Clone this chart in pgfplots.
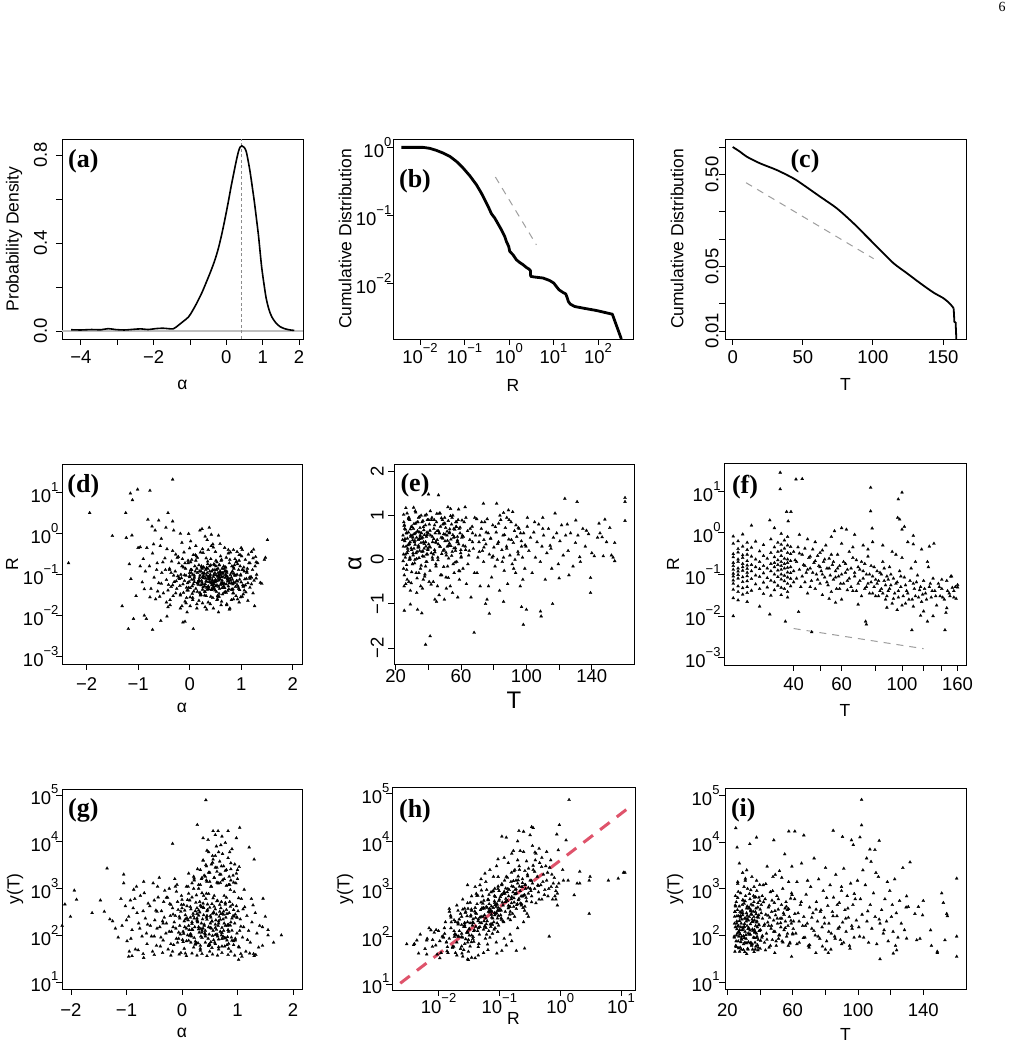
\documentclass[border=0pt]{standalone}
\usepackage{fontspec}
\setmainfont{Liberation Sans}
\newfontfamily\serifface{Liberation Serif}
\usepackage{pgfplots}
\pgfplotsset{compat=1.18}

\newcommand\tks{\fontsize{18.5}{20}\selectfont}
\newcommand\lab{\fontsize{17.5}{19}\selectfont}
\newcommand\biglab{\fontsize{24}{26}\selectfont}
\newcommand\tp[1]{10\raisebox{11pt}{\fontsize{13}{13}\selectfont #1}}
\newcommand\panel[1]{{\serifface\bfseries\fontsize{26}{28}\selectfont(#1)}}

\pgfplotsset{
  rpanel/.style={
    scale only axis, anchor=south west,
    axis line style={black, line width=0.9pt},
    every tick/.style={black, line width=0.9pt},
    tick align=outside, major tick length=6pt, minor tick length=0pt,
    xtick pos=bottom, ytick pos=left,
    tick label style={font=\tks, inner sep=0pt},
  },
  dots/.style={only marks, mark=triangle*, mark size=1.7pt,
    mark options={fill=black, draw=black, line width=0.3pt}},
  guide/.style={black!38, line width=1pt, dash pattern=on 7pt off 6pt},
}

\begin{document}
\begin{tikzpicture}
\path[use as bounding box, fill=white] (0,0) rectangle (1014pt,1046pt);

% ---------------- (a) density of alpha
\begin{axis}[rpanel, at={(62pt,707pt)}, width=241pt, height=200pt,
  xmin=-4.52, xmax=2.11, ymin=-0.036, ymax=0.873,
  xtick={-4,-3,-2,-1,0,1,2}, xticklabels={−4,,−2,,0,1,2},
  ytick={0,0.2,0.4,0.6,0.8}, yticklabels={0.0,,0.4,,0.8},
  x tick label style={anchor=base, yshift=-18.65pt},
  y tick label style={xshift=-9pt, rotate=90, anchor=base}]
\addplot[black!25, line width=1.3pt] coordinates {(-4.52,0)(2.11,0)};
\addplot[black!45, line width=0.8pt, dash pattern=on 3pt off 2.5pt] coordinates {(0.416,-0.036)(0.416,0.873)};
\addplot[black, line width=1.6pt, smooth] coordinates {
(-4.27,0.006)(-4.0,0.005)(-3.7,0.007)(-3.45,0.006)(-3.25,0.011)(-3.05,0.007)(-2.8,0.005)
(-2.55,0.008)(-2.35,0.01)(-2.15,0.007)(-1.95,0.011)(-1.75,0.013)(-1.6,0.011)(-1.46,0.01)
(-1.38,0.018)(-1.32,0.026)(-1.2,0.042)(-1.04,0.064)(-0.92,0.095)(-0.81,0.128)(-0.67,0.175)
(-0.54,0.226)(-0.42,0.275)(-0.31,0.325)(-0.22,0.375)(-0.125,0.44)(-0.03,0.515)(0.058,0.59)
(0.13,0.655)(0.196,0.71)(0.27,0.77)(0.333,0.815)(0.38,0.836)(0.427,0.842)(0.49,0.835)
(0.545,0.818)(0.6,0.775)(0.656,0.722)(0.715,0.655)(0.774,0.585)(0.83,0.51)(0.885,0.435)
(0.93,0.36)(0.977,0.285)(1.04,0.21)(1.096,0.15)(1.17,0.1)(1.25,0.065)(1.36,0.038)
(1.48,0.02)(1.62,0.01)(1.76,0.005)(1.87,0.003)};
\end{axis}

% ---------------- (b) cumulative distribution of R
\begin{axis}[rpanel, at={(393pt,707pt)}, width=240pt, height=200pt,
  xmode=log, ymode=log,
  xmin=0.00247, xmax=612, ymin=0.00156, ymax=1.327,
  xtick={0.01,0.1,1,10,100}, xticklabels={\tp{−2},\tp{−1},\tp{0},\tp{1},\tp{2}},
  ytick={0.01,0.1,1}, yticklabels={\tp{−2},\tp{−1},\tp{0}},
  x tick label style={anchor=base, yshift=-18.4pt},
  y tick label style={anchor=east, xshift=4.5pt}]
\addplot[guide] coordinates {(0.494,0.368)(4.12,0.0374)};
\addplot[black, line width=2.8pt, line join=round] coordinates {
(0.00381,1.0)(0.00697,1.0)(0.0117,1.0)(0.0165,0.968)(0.0233,0.904)(0.033,0.826)
(0.0465,0.739)(0.0656,0.624)(0.0927,0.499)(0.131,0.385)(0.185,0.284)(0.239,0.214)
(0.284,0.171)(0.338,0.137)(0.402,0.107)(0.478,0.0921)(0.566,0.076)(0.674,0.0621)
(0.8,0.0496)(0.873,0.0419)(0.984,0.0354)(1.04,0.0299)(1.23,0.0267)(1.47,0.0225)
(1.74,0.0206)(2.07,0.0191)(2.46,0.0174)(2.82,0.0165)(3.02,0.0157)(3.07,0.0129)
(3.78,0.0126)(5.82,0.0122)(8.22,0.0112)(10.1,0.0103)(11.6,0.00917)(13.3,0.00819)
(16.4,0.00748)(18.8,0.00716)(20.1,0.0064)(21.6,0.00552)(23.9,0.00505)(29.9,0.00467)
(46.1,0.00442)(91.8,0.00408)(210,0.0036)(335,0.00156)};
\end{axis}

% ---------------- (c) cumulative distribution of T
\begin{axis}[rpanel, at={(725pt,707pt)}, width=241pt, height=200pt,
  ymode=log,
  xmin=-5.5, xmax=166.4, ymin=0.00818, ymax=1.222,
  xtick={0,50,100,150}, xticklabels={0,50,100,150},
  ytick={0.01,0.02,0.05,0.1,0.2,0.5,1}, yticklabels={0.01,,0.05,,,0.50,},
  x tick label style={anchor=base, yshift=-18.35pt},
  y tick label style={xshift=-0.7pt, rotate=90, anchor=base}]
\addplot[guide] coordinates {(9.5,0.409)(100.5,0.0611)};
\addplot[black, line width=1.8pt, smooth] coordinates {
(0,1.0)(5.2,0.889)(10.0,0.785)(19.5,0.664)(31.4,0.562)(43.3,0.456)(50.5,0.386)
(62.4,0.288)(74.3,0.215)(86.2,0.148)(95.7,0.106)(105.2,0.0759)(114.7,0.0545)
(124.3,0.0424)(133.8,0.033)(143.3,0.0261)(150.5,0.0226)(155.2,0.0196)(157.6,0.0176)};
\addplot[black, line width=1.8pt] coordinates {
(157.6,0.0176)(158.1,0.0126)(159.0,0.0123)(159.5,0.0082)};
\end{axis}

% ---------------- (d) R against alpha
\begin{axis}[rpanel, at={(62pt,382pt)}, width=240pt, height=200pt,
  ymode=log,
  xmin=-2.477, xmax=2.18, ymin=6.53e-4, ymax=50.1,
  xtick={-2,-1,0,1,2}, xticklabels={−2,−1,0,1,2},
  ytick={1e-3,1e-2,1e-1,1,10}, yticklabels={\tp{−3},\tp{−2},\tp{−1},\tp{0},\tp{1}},
  x tick label style={anchor=base, yshift=-20.5pt},
  y tick label style={anchor=east, xshift=2.6pt}]
\addplot[dots] coordinates {
(0.12,0.045)(0.15,0.11)(0.18,0.072)(0.21,0.031)(0.23,0.16)(0.25,0.058)(0.27,0.092)(0.29,0.038)
(0.31,0.13)(0.33,0.067)(0.35,0.21)(0.37,0.049)(0.39,0.085)(0.41,0.029)(0.43,0.12)(0.45,0.063)
(0.47,0.18)(0.49,0.041)(0.51,0.097)(0.53,0.055)(0.55,0.14)(0.57,0.034)(0.59,0.078)(0.61,0.22)
(0.63,0.047)(0.65,0.105)(0.67,0.061)(0.69,0.15)(0.71,0.036)(0.73,0.089)(0.75,0.052)(0.77,0.19)
(0.79,0.071)(0.81,0.043)(0.83,0.12)(0.85,0.064)(0.87,0.095)(0.89,0.05)
(0.44,0.074)(0.28,0.11)(0.62,0.087)(0.36,0.052)(0.52,0.13)(0.19,0.083)(0.74,0.069)(0.58,0.045)
(0.33,0.095)(0.47,0.058)(0.68,0.12)(0.24,0.064)(0.55,0.079)(0.41,0.17)(0.79,0.098)(0.14,0.14)
(0.64,0.033)(0.38,0.066)(0.49,0.11)(0.71,0.058)(0.26,0.049)(0.57,0.099)(0.42,0.042)(0.83,0.075)
(0.31,0.081)(0.66,0.16)(0.53,0.069)(0.22,0.12)(0.46,0.088)(0.76,0.044)(0.35,0.14)(0.61,0.061)
(0.17,0.057)(0.5,0.075)(0.86,0.14)(0.4,0.1)(0.69,0.083)(0.3,0.059)(0.56,0.051)(0.45,0.13)
(0.72,0.11)(0.2,0.095)(0.63,0.072)(0.37,0.078)(0.81,0.085)(0.48,0.065)(0.27,0.15)(0.59,0.12)
(0.34,0.043)(0.54,0.09)(0.77,0.062)(0.43,0.055)(0.65,0.088)(0.16,0.066)(0.52,0.038)(0.7,0.098)
(0.39,0.12)(0.6,0.056)(0.25,0.087)(0.46,0.046)(0.84,0.058)(0.32,0.07)(0.58,0.17)(0.73,0.076)
(0.5,0.052)(0.41,0.064)(0.67,0.047)(0.23,0.071)(0.55,0.11)(0.36,0.089)
(-0.28,0.12)(-0.25,0.045)(-0.22,0.27)(-0.2,0.078)(-0.18,0.031)(-0.15,0.16)(-0.13,0.058)(-0.11,0.35)
(-0.09,0.022)(-0.07,0.094)(-0.05,0.041)(-0.03,0.19)(-0.01,0.067)(0.01,0.028)(0.03,0.13)(0.05,0.052)
(0.07,0.3)(0.09,0.085)(-0.26,0.069)(-0.21,0.19)(-0.17,0.1)(-0.12,0.036)(-0.08,0.14)(-0.04,0.062)
(0.0,0.11)(0.04,0.075)(0.08,0.039)(-0.19,0.053)(-0.14,0.24)(-0.06,0.027)(0.02,0.2)(0.06,0.1)
(-0.23,0.092)(-0.1,0.07)(-0.02,0.048)(0.1,0.16)(-0.27,0.035)(-0.16,0.082)(0.05,0.034)(0.0,0.44)
(0.91,0.21)(0.93,0.068)(0.95,0.13)(0.97,0.042)(0.99,0.095)(1.01,0.28)(1.03,0.055)(1.05,0.15)
(1.07,0.077)(1.09,0.037)(1.11,0.11)(1.13,0.062)(1.15,0.19)(1.17,0.048)(1.19,0.088)(1.22,0.13)
(1.25,0.071)(1.27,0.16)(1.3,0.1)(0.92,0.1)(0.96,0.3)(1.0,0.065)(1.04,0.033)(1.08,0.23)
(1.12,0.14)(1.16,0.085)(1.2,0.058)(0.94,0.051)(1.06,0.12)(1.23,0.25)
(-0.78,0.16)(-0.75,0.045)(-0.72,0.33)(-0.69,0.085)(-0.66,0.025)(-0.63,0.19)(-0.6,0.062)(-0.57,0.5)
(-0.54,0.11)(-0.51,0.035)(-0.48,0.25)(-0.45,0.074)(-0.42,0.016)(-0.39,0.14)(-0.36,0.05)(-0.33,0.38)
(-0.31,0.095)(-0.77,0.028)(-0.7,0.55)(-0.64,0.13)(-0.58,0.029)(-0.52,0.2)(-0.47,0.13)(-0.41,0.056)
(-0.35,0.21)(-0.32,0.03)(-0.55,0.06)(-0.44,0.42)(-0.62,0.039)(-0.38,0.024)
(-0.73,1.5)(-0.67,1.2)(-0.46,1.4)(-0.31,1.2)(-0.18,1.0)(-0.02,0.99)(0.2,1.2)(0.24,1.3)
(0.38,1.4)(0.3,0.85)(0.34,0.7)(0.56,0.9)(0.59,0.56)(-0.96,0.47)(-0.83,0.45)(-0.9,0.24)
(0.85,0.4)(0.98,0.3)(1.24,0.41)(1.02,0.4)(0.12,0.5)(0.45,0.55)(0.68,0.45)(-0.15,0.6)
(0.02,0.65)(0.5,0.36)(0.75,0.33)(0.25,0.42)(-0.55,0.75)(0.42,0.95)
(-0.44,0.0095)(-0.38,0.018)(-0.18,0.015)(0.01,0.017)(0.14,0.015)(0.33,0.014)(0.46,0.015)(0.56,0.012)
(0.72,0.018)(0.25,0.02)(0.62,0.022)(0.85,0.025)(-0.05,0.012)(0.4,0.019)(0.18,0.023)
(-0.33,21)(-1.01,12)(-1.15,9.6)(-1.11,6.6)(-0.77,11.2)(-1.94,3.2)(-1.24,3.2)(-0.42,3.2)
(-2.35,0.19)(-1.5,0.88)(-1.23,0.79)(-1.12,0.91)(-0.81,2.2)(-0.6,2.1)(-0.33,2)(1.51,0.7)
(1.47,0.26)(1.45,0.23)(-1.31,0.017)(-1.19,0.0047)(-1.09,0.0083)(-0.72,0.0045)(0.07,0.0047)(-0.88,0.01)
(-0.84,0.0083)(-0.56,0.0074)(-0.13,0.0068)(-0.09,0.0071)(1.29,0.081)(1.37,0.063)(1.4,0.06)(1.2,0.36)
(1.28,0.27)(-1.17,0.18)(-1.14,0.078)(-1.04,0.03)(-0.96,0.16)(-0.92,0.065)(-0.86,0.12)(-1.0,0.45)
(-0.88,0.044)
(-0.45,0.021)(-0.39,0.13)(-0.33,0.055)(-0.27,0.31)(-0.21,0.084)(-0.15,0.017)(-0.09,0.19)(-0.03,0.041)
(0.03,0.11)(0.09,0.066)(0.15,0.26)(0.21,0.033)(0.27,0.15)(0.33,0.048)(0.39,0.093)(0.45,0.027)
(0.51,0.22)(0.57,0.072)(0.63,0.14)(0.69,0.038)(0.75,0.4)(0.81,0.061)(0.87,0.17)(0.93,0.025)
(0.99,0.1)(1.05,0.052)(1.11,0.12)(1.17,0.079)(1.23,0.035)(1.29,0.2)
(-0.42,0.041)(-0.36,0.11)(-0.3,0.066)(-0.24,0.26)(-0.18,0.033)(-0.12,0.15)(-0.06,0.048)(0.0,0.093)
(0.06,0.027)(0.12,0.22)(0.18,0.072)(0.24,0.14)(0.3,0.038)(0.36,0.4)(0.42,0.061)(0.48,0.17)
(0.54,0.025)(0.6,0.1)(0.66,0.052)(0.72,0.12)(0.78,0.079)(0.84,0.035)(0.9,0.2)(0.96,0.021)
(1.02,0.13)(1.08,0.055)(1.14,0.31)(1.2,0.084)(1.26,0.017)(1.32,0.19)
(0.0,0.087)(0.04,0.23)(0.07,0.058)(0.11,0.12)(0.14,0.019)(0.18,0.068)(0.21,0.35)(0.25,0.043)
(0.28,0.105)(0.32,0.03)(0.35,0.18)(0.39,0.076)(0.42,0.5)(0.46,0.051)(0.49,0.13)(0.53,0.024)
(0.56,0.095)(0.6,0.28)(0.63,0.064)(0.67,0.036)(0.7,0.15)(0.74,0.082)(0.77,0.014)(0.81,0.11)
(0.84,0.044)(0.88,0.24)(0.91,0.07)(0.95,0.045)(0.98,0.16)(1.02,0.029)
(0.02,0.13)(0.06,0.024)(0.09,0.095)(0.13,0.28)(0.16,0.064)(0.2,0.036)(0.23,0.15)(0.27,0.082)
(0.3,0.016)(0.34,0.11)(0.37,0.044)(0.41,0.24)(0.44,0.07)(0.48,0.045)(0.51,0.16)(0.55,0.029)
(0.58,0.087)(0.62,0.23)(0.65,0.058)(0.69,0.12)(0.72,0.019)(0.76,0.068)(0.79,0.35)(0.83,0.043)
(0.86,0.105)(0.9,0.03)(0.93,0.18)(0.97,0.076)(1.0,0.45)(1.04,0.051)
(-0.1,0.097)(-0.07,0.02)(-0.03,0.22)(0.01,0.047)(0.04,0.13)(0.08,0.076)(0.11,0.3)(0.15,0.038)
(0.18,0.17)(0.22,0.055)(0.25,0.107)(0.29,0.031)(0.32,0.25)(0.36,0.083)(0.39,0.16)(0.43,0.044)
(0.46,0.46)(0.5,0.07)(0.53,0.2)(0.57,0.029)(0.6,0.115)(0.64,0.06)(0.67,0.14)(0.71,0.091)
(0.74,0.04)(0.78,0.23)(0.81,0.024)(0.85,0.15)(0.88,0.063)(0.92,0.36)
(0.15,0.061)(0.19,0.12)(0.22,0.032)(0.26,0.34)(0.29,0.052)(0.33,0.145)(0.36,0.021)(0.4,0.085)
(0.43,0.044)(0.47,0.1)(0.5,0.067)(0.54,0.03)(0.57,0.17)(0.61,0.018)(0.64,0.11)(0.68,0.047)
(0.71,0.26)(0.75,0.071)(0.78,0.015)(0.82,0.16)(0.85,0.035)(0.89,0.094)(0.92,0.056)(0.96,0.22)
(0.99,0.028)(1.03,0.13)(1.06,0.041)(1.1,0.079)(1.13,0.023)(1.17,0.19)};
\end{axis}

% ---------------- (e) alpha against T
\begin{axis}[rpanel, at={(394pt,382pt)}, width=240pt, height=200pt,
  xmin=19, xmax=165.8, ymin=-2.36, ymax=2.165,
  xtick={20,40,...,140}, xticklabels={20,,60,,100,,140},
  ytick={-2,-1,0,1,2}, yticklabels={−2,−1,0,1,2},
  x tick label style={anchor=base, yshift=-12.45pt},
  y tick label style={xshift=-4.4pt, rotate=90, anchor=base}]
\addplot[dots] coordinates {
(24.5,0.55)(24.8,0.12)(25.0,0.85)(25.3,-0.35)(25.6,0.42)(25.9,0.05)(26.1,0.68)(26.4,0.3)
(26.7,-0.12)(27.0,1.05)(27.2,0.48)(27.5,0.2)(27.8,0.62)(28.1,-0.5)(28.3,0.36)(28.6,0.9)
(28.9,0.01)(29.2,0.55)(29.5,0.26)(29.8,-0.28)(30.1,0.74)(30.4,0.44)(30.7,0.1)(31.0,1.18)
(31.3,0.58)(31.6,-0.08)(31.9,0.34)(32.2,0.82)(32.5,0.15)(32.8,0.5)(33.1,-0.42)(33.4,0.65)
(33.7,0.28)(34.0,0.95)(34.3,0.04)(34.6,0.47)(34.9,0.72)(35.2,-0.2)(35.5,0.38)(35.8,0.6)
(36.1,0.18)(36.4,-0.65)(36.7,0.88)(37.0,0.4)(37.3,0.07)(37.6,0.56)(37.9,-0.33)(38.2,0.78)
(38.5,0.3)(38.8,0.52)(39.1,-0.05)(39.4,0.9)(39.7,0.22)
(24.7,0.3)(25.5,0.7)(26.2,-0.55)(27.1,0.15)(27.9,0.95)(28.8,0.4)(29.6,0.75)(30.3,-0.1)
(31.2,0.25)(32.0,0.6)(32.9,-0.75)(33.8,0.45)(34.7,0.2)(35.6,1.0)(36.5,0.5)(37.4,0.25)
(38.3,-0.15)(39.2,0.62)(24.9,1.02)(26.8,0.6)(28.4,0.0)(30.6,0.5)(33.2,0.85)(35.0,0.55)
(36.9,-0.45)(38.9,0.12)(25.2,-0.6)(29.0,-0.7)(31.8,0.0)(34.2,-0.3)
(40.2,0.35)(40.6,0.8)(41.0,-0.25)(41.4,0.55)(41.8,0.15)(42.2,0.95)(42.6,0.4)(43.0,-0.5)
(43.4,0.7)(43.8,0.22)(44.2,0.6)(44.6,-0.1)(45.0,0.85)(45.4,0.45)(45.8,0.05)(46.2,0.65)
(46.6,-0.8)(47.0,0.3)(47.4,0.75)(47.8,0.5)(48.2,-0.35)(48.6,0.9)(49.0,0.2)(49.4,0.58)
(49.8,-0.9)(50.2,0.42)(50.6,0.72)(51.0,0.1)(51.4,0.55)(51.8,-0.15)(52.2,0.88)(52.6,0.32)
(53.0,0.62)(53.4,-0.6)(53.8,0.46)(54.2,0.8)(54.6,0.18)(55.0,1.0)(55.4,0.5)(55.8,-0.3)
(56.2,0.68)(56.6,0.26)(57.0,0.75)(57.4,-0.05)(57.8,0.52)(58.2,0.9)(58.6,0.35)(59.0,-0.45)
(59.4,0.6)(59.8,0.15)
(41.2,1.1)(43.6,0.9)(45.6,-0.6)(47.2,1.05)(49.6,0.82)(51.6,0.3)(53.6,1.15)(55.6,0.7)
(57.6,0.4)(42.4,0.05)(44.8,0.38)(46.8,0.6)(48.8,0.48)(50.8,-0.4)(52.8,0.6)(54.8,-0.75)
(56.8,0.85)(58.8,0.7)(44.0,-0.9)(50.0,0.95)
(60.5,0.5)(61.2,-0.2)(61.9,0.85)(62.6,0.3)(63.3,-0.55)(64.0,0.65)(64.7,0.1)(65.4,0.45)
(66.1,-0.85)(66.8,0.75)(67.5,0.25)(68.2,-0.3)(68.9,0.55)(69.6,0.92)(70.3,0.05)(71.0,0.4)
(71.7,-0.6)(72.4,0.7)(73.1,0.2)(73.8,-0.05)(74.5,0.85)(75.2,0.35)(75.9,-0.9)(76.6,0.6)
(77.3,0.12)(78.0,0.48)(78.7,-0.4)(79.4,0.78)(80.1,0.28)(80.8,-0.15)(81.5,0.62)(82.2,0.0)
(82.9,0.4)(83.6,-0.7)(84.3,0.9)(85.0,0.22)(85.7,0.55)(86.4,-0.25)(87.1,0.72)(87.8,0.3)
(88.5,-0.55)(89.2,0.46)(89.9,0.1)(90.6,0.85)(91.3,-0.1)(92.0,0.38)(92.7,0.65)(93.4,-0.3)
(94.1,0.52)(94.8,0.18)(95.5,0.7)(96.2,-0.6)(96.9,0.42)(97.6,0.05)(98.3,0.6)(99.0,-0.2)
(99.7,0.3)(63.0,0.95)(67.0,0.6)(71.5,0.55)(76.0,0.92)(79.0,0.05)(83.0,0.82)(88.0,0.95)
(93.0,0.0)(97.0,0.3)(65.0,0.2)(74.0,0.45)(86.0,0.05)(95.0,0.72)
(100.5,0.75)(101.5,0.2)(102.5,0.5)(103.5,-0.3)(104.5,0.62)(105.5,0.05)(106.5,0.4)(107.5,0.8)
(108.5,-0.05)(109.5,0.3)(110.5,0.55)(111.5,-0.45)(112.5,0.15)(113.5,0.7)(114.5,0.32)(115.5,-0.2)
(116.5,0.5)(117.5,1.05)(118.5,0.6)(119.5,-0.1)(120.5,0.42)(121.5,0.78)(122.5,0.1)(124.0,0.55)
(125.5,0.2)(127.0,0.6)(128.5,-0.15)(130.0,0.38)(131.5,0.55)(133.0,-0.05)(134.5,0.7)(136.0,0.3)
(138.0,0.58)(140.0,0.15)(141.5,0.08)(143.5,0.5)(145.0,0.6)(147.0,0.08)(149.0,0.4)(151.0,0.72)
(153.0,0.05)(110.0,0.95)(105.0,0.85)(115.0,0.25)(125.0,0.8)
(38.3,-1.92)(41.1,-1.73)(68,-1.65)(98.1,-1.47)(108.6,-1.17)(109,-1.28)(100,-1.13)(97,-1.07)
(116,-1.0)(77.3,-1.22)(25.3,-1.15)(29,-1.01)(33.4,-1.13)(36,-1.21)(139.2,-0.75)(139.2,-0.41)
(160.3,1.4)(160.3,1.31)(160.3,0.88)(154,0.38)(152,0.1)(154,-0.03)(148,0.91)(144.4,0.82)
(146.3,0.51)(131,1.31)(123.5,1.38)(130.2,0.89)(136.7,0.66)(132.6,0.06)(110,0.7)(81.8,1.27)
(73.7,1.27)(89,1.12)(86,1.06)(91.6,1.08)(62.5,1.19)(52,1.19)(46.2,1.46)(40.1,1.48)
(75,-1.0)(86,-0.95)(120,-0.42)(126,-0.35)(45,-0.95)(58,-0.85)
(24.3,0.45)(24.85,-0.2)(25.4,0.78)(25.95,0.12)(26.5,0.6)(27.05,-0.45)(27.6,0.33)(28.15,0.95)
(28.7,0.05)(29.25,0.52)(29.8,0.22)(30.35,-0.1)(30.9,0.7)(31.45,0.4)(32.0,1.1)(32.55,-0.3)
(33.1,0.18)(33.65,0.85)(34.2,0.28)(34.75,0.62)(35.3,-0.6)(35.85,0.48)(36.4,0.08)(36.95,0.74)
(37.5,0.36)(38.05,1.0)(38.6,-0.05)(39.15,0.56)(39.7,0.25)(40.25,0.9)
(24.6,-0.03)(25.15,0.77)(25.7,0.47)(26.25,1.17)(26.8,-0.23)(27.35,0.25)(27.9,0.92)(28.45,0.35)
(29.0,0.69)(29.55,-0.53)(30.1,0.55)(30.65,0.15)(31.2,0.81)(31.75,0.43)(32.3,1.07)(32.85,0.02)
(33.4,0.63)(33.95,0.32)(34.5,0.97)(35.05,0.52)(35.6,-0.13)(36.15,0.85)(36.7,0.19)(37.25,0.67)
(37.8,-0.38)(38.35,0.4)(38.9,1.02)(39.45,0.12)(40.0,0.59)(40.55,0.29)
(40.5,-0.5)(41.2,0.28)(41.9,0.9)(42.6,0.0)(43.3,0.47)(44.0,0.17)(44.7,-0.15)(45.4,0.65)
(46.1,0.35)(46.8,1.05)(47.5,-0.35)(48.2,0.13)(48.9,0.8)(49.6,0.23)(50.3,0.57)(51.0,-0.65)
(51.7,0.43)(52.4,0.03)(53.1,0.69)(53.8,0.31)(54.5,0.95)(55.2,-0.1)(55.9,0.51)(56.6,0.2)
(57.3,0.85)(58.0,0.4)(58.7,-0.25)(59.4,0.73)(60.1,0.07)(60.8,0.55)
(41.0,0.66)(41.7,-0.56)(42.4,0.52)(43.1,0.12)(43.8,0.78)(44.5,0.4)(45.2,1.04)(45.9,-0.01)
(46.6,0.6)(47.3,0.29)(48.0,0.94)(48.7,0.49)(49.4,-0.16)(50.1,0.82)(50.8,0.16)(51.5,0.64)
(52.2,-0.41)(52.9,0.37)(53.6,0.99)(54.3,0.09)(55.0,0.56)(55.7,0.26)(56.4,-0.06)(57.1,0.74)
(57.8,0.44)(58.5,1.14)(59.2,-0.26)(59.9,0.22)(60.6,0.89)(61.3,0.32)
(60.0,0.05)(61.4,0.52)(62.8,0.22)(64.2,-0.1)(65.6,0.7)(67.0,0.4)(68.4,0.95)(69.8,-0.3)
(71.2,0.18)(72.6,0.85)(74.0,0.28)(75.4,0.62)(76.8,-0.6)(78.2,0.48)(79.6,0.08)(81.0,0.74)
(82.4,0.36)(83.8,1.0)(85.2,-0.05)(86.6,0.56)(88.0,0.25)(89.4,0.9)(90.8,0.45)(92.2,-0.2)
(93.6,0.78)(95.0,0.12)(96.4,0.6)(97.8,-0.45)(99.2,0.33)(100.6,0.95)};
\end{axis}

% ---------------- (f) R against T
\begin{axis}[rpanel, at={(724pt,381pt)}, width=242pt, height=202pt,
  xmode=log, ymode=log,
  xmin=22.2, xmax=171.8, ymin=6.65e-4, ymax=47.5,
  xtick={40,50,60,80,100,120,140,160}, xticklabels={40,,60,,100,,,160},
  ytick={1e-3,1e-2,1e-1,1,10}, yticklabels={\tp{−3},\tp{−2},\tp{−1},\tp{0},\tp{1}},
  x tick label style={anchor=base, yshift=-19.5pt},
  y tick label style={anchor=east, xshift=2.7pt}]
\addplot[guide] coordinates {(40,0.005)(120,0.00164)};
\addplot[dots] coordinates {
(24,0.82)(24,0.55)(24,0.31)(24,0.26)(24,0.19)(24,0.16)(24,0.13)(24,0.105)(24,0.09)(24,0.072)(24,0.06)(24,0.043)(24,0.027)
(25,0.63)(25,0.41)(25,0.34)(25,0.23)(25,0.2)(25,0.14)(25,0.118)(25,0.098)(25,0.08)(25,0.052)(25,0.038)(25,0.024)
(26,0.92)(26,0.47)(26,0.29)(26,0.25)(26,0.18)(26,0.15)(26,0.124)(26,0.086)(26,0.066)(26,0.047)(26,0.033)
(27,0.58)(27,0.39)(27,0.3)(27,0.21)(27,0.165)(27,0.137)(27,0.11)(27,0.091)(27,0.069)(27,0.05)(27,0.036)(27,0.022)
(28,0.44)(28,0.27)(28,0.17)(28,0.12)(28,0.078)(28,0.041)
(29,0.62)(29,0.23)(29,0.15)(29,0.095)(29,0.058)
(30,0.36)(30,0.2)(30,0.135)(30,0.088)(30,0.045)(30,0.017)
(31,0.51)(31,0.28)(31,0.16)(31,0.107)(31,0.064)(31,0.034)
(32,0.24)(32,0.14)(32,0.082)(32,0.049)
(33,0.7)(33,0.33)(33,0.18)(33,0.12)(33,0.071)(33,0.031)
(34,1.3)(34,0.45)(34,0.26)(34,0.19)(34,0.15)(34,0.1)(34,0.065)(34,0.042)
(35,0.58)(35,0.35)(35,0.22)(35,0.17)(35,0.125)(35,0.087)(35,0.054)
(36,0.95)(36,0.52)(36,0.37)(36,0.28)(36,0.2)(36,0.16)(36,0.13)(36,0.1)(36,0.076)(36,0.048)(36,0.032)
(37,0.66)(37,0.42)(37,0.24)(37,0.18)(37,0.14)(37,0.094)(37,0.069)(37,0.045)
(38,0.8)(38,0.5)(38,0.33)(38,0.23)(38,0.19)(38,0.145)(38,0.112)(38,0.085)(38,0.06)(38,0.038)(38,0.028)
(39,0.46)(39,0.31)(39,0.21)(39,0.15)(39,0.108)(39,0.079)(39,0.052)
(40.5,0.22)(41,0.08)(41.5,0.45)(42,0.13)(42.5,0.05)(43,0.3)(43.5,0.17)(44,0.065)
(44.5,0.11)(45,0.035)(45.5,0.25)(46,0.14)(46.5,0.07)(47,0.4)(47.5,0.19)(48,0.045)
(48.5,0.1)(49,0.28)(49.5,0.16)(50,0.06)(50.5,0.12)(51,0.032)(51.5,0.2)(52,0.085)
(52.5,0.5)(53,0.14)(53.5,0.055)(54,0.24)(54.5,0.095)(55,0.038)(55.5,0.17)(56,0.075)
(56.5,1.1)(57,0.12)(57.5,0.045)(58,0.3)(58.5,0.09)(59,0.16)(59.5,0.06)(60,0.025)
(61,0.2)(62,0.11)(63,0.07)(64,0.35)(65,0.14)(66,0.04)(67,0.09)(68,0.22)
(69,0.06)(70,0.13)(71,0.03)(72,0.08)(73,0.18)(74,0.05)(75,0.27)(76,0.1)
(77,0.065)(78,0.035)(79,0.15)(80,0.075)
(42,0.9)(45,0.7)(48,0.6)(51,0.38)(54,0.026)(57,0.021)(60,0.55)(63,0.042)
(66,0.45)(69,0.019)(72,0.5)(75,0.4)(78,0.6)(62.5,1.2)(55,0.8)
(81,0.06)(82,0.03)(83,0.11)(84,0.045)(85,0.2)(86,0.07)(87,0.025)(88,0.09)
(89,0.04)(90,0.15)(91,0.055)(92,0.02)(93,0.08)(94,0.035)(95,0.3)(96,0.065)
(97,0.028)(98,0.12)(99,0.05)(100,0.018)(102,0.085)(104,0.04)(106,0.025)(108,0.14)
(110,0.06)(112,0.03)(114,0.095)(116,0.042)(118,0.022)(120,0.07)(122,0.035)(124,0.2)
(126,0.05)(128,0.028)(130,0.08)(132,0.04)(134,0.018)(136,0.06)(138,0.03)(140,0.045)
(143,0.025)(146,0.07)(149,0.035)(152,0.09)(155,0.04)(158,0.026)
(85,0.5)(92,0.35)(100,0.25)(105,0.6)(112,0.2)(118,0.4)(125,0.15)(88,0.016)
(96,0.014)(103,0.02)(110,0.017)(120,0.013)
(40,0.35)(40,0.12)(40,0.065)(41,0.2)(42,0.32)(43,0.09)(44,0.16)(44,0.42)(45,0.13)(46,0.27)
(46,0.05)(47,0.11)(48,0.21)(49,0.075)(50,0.33)(50,0.15)(51,0.1)(52,0.23)(53,0.065)(54,0.14)
(55,0.3)(56,0.2)(57,0.085)(58,0.14)(59,0.045)(60,0.1)(61,0.06)(62,0.18)(63,0.13)(64,0.08)
(65,0.05)(66,0.25)(67,0.11)(68,0.04)(69,0.15)(70,0.07)(71,0.2)(72,0.12)(73,0.045)(74,0.1)
(75,0.06)(76,0.035)(77,0.16)(78,0.09)(79,0.05)(80,0.03)(81,0.12)(82,0.07)(83,0.04)(84,0.1)
(85,0.035)(86,0.14)(87,0.055)(88,0.03)(89,0.075)(90,0.045)(91,0.1)(93,0.026)(95,0.06)(97,0.04)
(99,0.09)(101,0.03)(103,0.055)(105,0.035)(107,0.07)(109,0.025)(111,0.045)(113,0.065)(115,0.028)(117,0.05)
(119,0.033)(121,0.045)(123,0.025)(127,0.06)(129,0.04)(133,0.03)(137,0.05)(141,0.028)(147,0.04)(157,0.05)
(35.7,28)(35.7,11.2)(40.8,19.3)(43,19.7)(37.7,3.2)(39.1,3.2)(32.7,2.0)(38.2,1.9)
(76.7,12.2)(76.7,3.3)(96.9,6.4)(100,9.3)(96.4,2.3)(98,2.1)(77.7,1.28)(24,0.01)
(32.7,0.011)(37.3,0.0074)(41.7,0.0126)(46.6,0.0041)(73.5,0.0074)(74,0.0063)(108.7,0.0046)(143.8,0.0046)
(124,0.0074)(117,0.0102)(130,0.01)(146,0.0155)(145,0.012)(160,0.056)(160,0.049)(151,0.089)
(153,0.048)(150,0.03)(155,0.028)(140,0.075)(131,0.55)(126,0.47)(110,0.53)(110,0.85)
(100,1.2)(102,1.4)(67,0.9)(60,1.3)(28,1.5)};
\end{axis}

% ---------------- (g) y(T) against alpha
\begin{axis}[rpanel, at={(62pt,57pt)}, width=240pt, height=200pt,
  ymode=log,
  xmin=-2.162, xmax=2.162, ymin=7.08, ymax=134600,
  xtick={-2,-1,0,1,2}, xticklabels={−2,−1,0,1,2},
  ytick={10,100,1000,10000,100000}, yticklabels={\tp{1},\tp{2},\tp{3},\tp{4},\tp{5}},
  x tick label style={anchor=base, yshift=-21.1pt},
  y tick label style={anchor=east, xshift=2.6pt}]
\addplot[dots] coordinates {
(0.02,120)(0.05,340)(0.08,75)(0.11,210)(0.14,560)(0.17,95)(0.2,260)(0.23,150)(0.26,720)(0.29,68)
(0.32,310)(0.35,180)(0.38,480)(0.41,110)(0.44,240)(0.47,85)(0.5,390)(0.53,140)(0.56,620)(0.59,70)
(0.62,280)(0.65,160)(0.68,450)(0.71,100)(0.74,220)(0.77,58)(0.8,350)(0.83,130)(0.86,520)(0.89,90)
(0.04,200)(0.09,420)(0.13,130)(0.18,650)(0.22,88)(0.27,230)(0.31,115)(0.36,800)(0.4,170)(0.45,330)
(0.49,62)(0.54,200)(0.58,410)(0.63,105)(0.67,250)(0.72,145)(0.76,700)(0.81,78)(0.85,300)(0.88,190)
(0.01,80)(0.06,270)(0.12,160)(0.16,360)(0.21,55)(0.25,500)(0.3,135)(0.34,95)(0.39,270)(0.43,600)
(0.48,150)(0.52,72)(0.57,300)(0.61,210)(0.66,82)(0.7,380)(0.75,125)(0.79,240)(0.84,66)(0.87,410)
(0.03,450)(0.1,100)(0.15,240)(0.19,130)(0.24,330)(0.28,190)(0.33,60)(0.37,220)(0.42,125)(0.46,460)
(0.51,260)(0.55,98)(0.6,170)(0.64,550)(0.69,120)(0.73,290)(0.78,160)(0.82,92)(0.9,230)(0.35,400)
(-0.58,420)(-0.55,95)(-0.52,1300)(-0.49,210)(-0.46,60)(-0.43,650)(-0.4,150)(-0.37,330)(-0.34,78)(-0.31,900)
(-0.28,180)(-0.25,50)(-0.22,470)(-0.19,120)(-0.16,280)(-0.13,1600)(-0.1,85)(-0.07,350)(-0.04,160)(-0.01,700)
(-0.57,160)(-0.5,560)(-0.44,1100)(-0.38,90)(-0.32,240)(-0.26,640)(-0.2,65)(-0.14,190)(-0.08,520)(-0.03,105)
(-0.53,45)(-0.47,340)(-0.41,1700)(-0.35,200)(-0.29,110)(-0.23,1000)(-0.17,380)(-0.11,140)(-0.05,250)(-0.02,42)
(-0.45,140)(-0.33,520)(-0.21,260)(-0.09,1200)(-0.15,62)
(-1.08,160)(-1.05,1300)(-1.02,420)(-0.99,75)(-0.96,250)(-0.93,560)(-0.9,130)(-0.87,950)(-0.84,50)(-0.81,300)
(-0.78,180)(-0.75,700)(-0.72,95)(-0.69,1400)(-0.66,230)(-0.63,65)(-0.61,480)(-1.0,210)(-0.95,45)(-0.88,380)
(-0.82,1100)(-0.76,140)(-0.7,330)(-0.64,110)(-1.1,600)(-0.92,85)(-0.85,600)(-0.79,48)(-0.68,800)(-0.62,170)
(0.91,450)(0.93,75)(0.95,180)(0.97,1300)(0.99,110)(1.01,330)(1.03,55)(1.05,220)(1.07,600)(1.09,90)
(1.11,150)(1.13,400)(1.15,45)(1.17,260)(1.2,125)(1.23,70)(1.26,190)(1.29,40)(1.32,300)(1.35,110)
(1.38,55)(1.4,160)(0.94,850)(1.0,2500)(1.06,40)(1.12,950)(1.18,80)(1.25,600)(1.33,38)(0.96,280)
(0.22,1500)(0.28,2600)(0.33,1200)(0.38,4000)(0.42,1800)(0.45,6500)(0.48,2200)(0.5,1400)(0.53,3300)(0.55,5000)
(0.58,1700)(0.6,2800)(0.62,8000)(0.65,1300)(0.68,3800)(0.7,2000)(0.73,5500)(0.76,1600)(0.8,2500)(0.84,1200)
(0.88,3500)(0.92,1900)(0.56,4200)(0.63,2300)(0.66,6000)(0.71,3000)(0.52,1100)(0.44,3000)(0.36,1700)(0.3,1000)
(0.18,1300)(0.12,2100)(0.08,1100)(0.78,9500)(0.86,6000)
(-0.9,36)(-0.7,40)(-0.5,38)(-0.35,42)(-0.2,37)(-0.05,39)(0.08,36)(0.18,41)(0.27,37)(0.36,40)
(0.45,36)(0.55,39)(0.64,37)(0.72,42)(0.83,38)(0.95,37)(1.08,35)(1.22,41)(1.3,36)(0.5,45)
(0.43,78000)(0.275,23000)(1.04,20000)(-0.17,9100)(0.56,17000)(0.65,17000)(0.83,17000)(0.38,12000)
(0.47,11000)(0.98,12000)(1.21,7600)(1.3,4200)(-1.35,2700)(-1.94,910)(-1.9,580)(-2.11,460)
(-2.01,250)(-2.16,160)(-1.62,300)(-1.47,560)(-1.4,320)(1.79,100)(1.65,70)(1.55,130)
(1.55,100)(1.46,610)(1.28,440)(-0.96,35)(-0.69,33)(1.02,30)(-1.25,200)(-1.2,140)
(-1.15,90)(-1.3,220)(1.5,250)(1.45,150)(0.72,13000)(0.6,14000)(-1.05,2000)(1.45,60)
(-0.5,95)(-0.45,320)(-0.39,58)(-0.34,180)(-0.28,640)(-0.23,120)(-0.17,45)(-0.12,260)(-0.06,85)(-0.01,450)
(0.05,150)(0.11,1100)(0.16,70)(0.22,230)(0.27,380)(0.33,52)(0.38,140)(0.44,780)(0.49,105)(0.55,290)
(0.6,65)(0.66,200)(0.71,520)(0.77,88)(0.82,160)(0.88,1500)(0.93,62)(0.99,240)(1.04,125)(1.1,360)
(-0.2,450)(-0.16,150)(-0.12,1100)(-0.08,70)(-0.04,230)(0.0,380)(0.04,52)(0.08,140)(0.12,780)(0.16,105)
(0.2,290)(0.24,65)(0.28,200)(0.32,520)(0.36,88)(0.4,160)(0.44,1500)(0.48,62)(0.52,240)(0.56,125)
(0.6,360)(0.64,95)(0.68,320)(0.72,58)(0.76,180)(0.8,640)(0.84,120)(0.88,45)(0.92,260)(0.96,85)
(-0.1,860)(-0.06,115)(-0.02,320)(0.02,72)(0.06,220)(0.1,570)(0.14,97)(0.18,176)(0.22,1650)(0.26,68)
(0.3,265)(0.34,138)(0.38,400)(0.42,105)(0.46,350)(0.5,64)(0.54,198)(0.58,700)(0.62,132)(0.66,50)
(0.7,286)(0.74,94)(0.78,495)(0.82,165)(0.86,1200)(0.9,77)(0.94,253)(0.98,420)(1.02,57)(1.06,154)
(0.0,576)(0.03,108)(0.06,41)(0.09,234)(0.12,77)(0.15,405)(0.18,135)(0.21,990)(0.24,63)(0.27,207)
(0.3,342)(0.33,47)(0.36,126)(0.39,700)(0.42,95)(0.45,261)(0.48,59)(0.51,180)(0.54,468)(0.57,79)
(0.6,144)(0.63,1350)(0.66,56)(0.69,216)(0.72,113)(0.75,324)(0.78,86)(0.81,288)(0.84,52)(0.87,162)
(0.15,106)(0.18,192)(0.21,1800)(0.24,74)(0.27,288)(0.3,150)(0.33,432)(0.36,114)(0.39,384)(0.42,70)
(0.45,216)(0.48,768)(0.51,144)(0.54,54)(0.57,312)(0.6,102)(0.63,540)(0.66,180)(0.69,1320)(0.72,84)
(0.75,276)(0.78,456)(0.81,62)(0.84,168)(0.87,936)(0.9,126)(0.93,348)(0.96,78)(0.99,240)(1.02,624)
(0.3,1200)(0.33,2500)(0.35,1600)(0.38,4000)(0.4,1900)(0.43,3200)(0.45,1400)(0.48,6000)(0.5,2200)(0.53,1100)
(0.55,3600)(0.58,1700)(0.6,5000)(0.63,2800)(0.65,1300)(0.68,2000)(0.7,8500)(0.73,1500)(0.75,3000)(0.78,2400)
(0.8,1150)(0.83,4500)(0.85,1800)(0.88,2600)(0.9,7000)(0.93,1350)(0.95,3300)(0.98,2100)(1.0,1600)(1.03,2900)};
\end{axis}

% ---------------- (h) y(T) against R
\begin{axis}[rpanel, at={(392pt,56pt)}, width=243pt, height=203pt,
  xmode=log, ymode=log,
  xmin=0.001718, xmax=17, ymin=7.48, ymax=138000,
  xtick={0.01,0.1,1,10}, xticklabels={\tp{−2},\tp{−1},\tp{0},\tp{1}},
  ytick={10,100,1000,10000,100000}, yticklabels={\tp{1},\tp{2},\tp{3},\tp{4},\tp{5}},
  x tick label style={anchor=base, yshift=-17.7pt},
  y tick label style={anchor=east, xshift=3.6pt}]
\addplot[dots] coordinates {
(0.015,90)(0.016,150)(0.017,60)(0.018,220)(0.019,110)(0.02,75)(0.021,180)(0.022,130)(0.023,55)(0.024,260)
(0.025,95)(0.026,160)(0.027,70)(0.028,330)(0.029,120)(0.03,200)(0.031,85)(0.032,145)(0.033,62)(0.034,280)
(0.035,105)(0.036,170)(0.037,230)(0.038,78)(0.039,135)(0.04,400)(0.016,250)(0.019,45)(0.023,300)(0.027,190)
(0.031,48)(0.035,350)(0.024,115)(0.028,88)(0.033,190)(0.018,130)(0.021,100)(0.026,52)(0.03,125)(0.037,98)
(0.041,160)(0.043,480)(0.045,230)(0.047,110)(0.049,360)(0.051,190)(0.053,700)(0.055,140)(0.057,280)(0.059,90)
(0.061,420)(0.063,210)(0.065,600)(0.067,130)(0.069,320)(0.071,180)(0.073,850)(0.075,250)(0.077,115)(0.079,400)
(0.081,200)(0.083,550)(0.085,150)(0.087,300)(0.089,75)(0.091,460)(0.093,240)(0.095,1000)(0.097,170)(0.099,350)
(0.042,300)(0.046,70)(0.05,520)(0.054,260)(0.058,160)(0.062,950)(0.066,330)(0.07,95)(0.074,430)(0.078,240)
(0.082,140)(0.086,680)(0.09,310)(0.094,125)(0.098,560)(0.044,130)(0.052,380)(0.06,240)(0.068,480)(0.076,175)
(0.084,280)(0.092,190)(0.048,1200)(0.064,68)(0.08,900)(0.096,270)(0.056,210)(0.072,340)(0.088,420)(0.045,60)
(0.1,600)(0.105,280)(0.11,1200)(0.115,450)(0.12,850)(0.125,330)(0.13,1800)(0.135,560)(0.14,240)(0.145,950)
(0.15,420)(0.155,1400)(0.16,680)(0.165,300)(0.17,1100)(0.175,520)(0.18,2500)(0.185,780)(0.19,380)(0.2,1300)
(0.21,620)(0.22,900)(0.23,450)(0.24,1600)(0.25,720)(0.26,350)(0.27,1000)(0.28,550)(0.29,2000)(0.3,800)
(0.102,380)(0.108,750)(0.118,200)(0.128,620)(0.138,1000)(0.148,290)(0.158,500)(0.168,850)(0.178,260)(0.188,1500)
(0.198,480)(0.212,3000)(0.228,700)(0.245,400)(0.262,1200)(0.285,300)(0.112,520)(0.142,700)(0.172,420)(0.205,580)
(0.235,1100)(0.275,650)(0.122,1500)(0.152,220)(0.182,950)
(0.32,1500)(0.34,700)(0.36,2500)(0.38,1000)(0.4,500)(0.42,1800)(0.44,850)(0.46,3500)(0.48,1200)(0.5,600)
(0.53,2000)(0.56,950)(0.6,1500)(0.63,700)(0.67,2800)(0.71,1100)(0.75,600)(0.8,1700)(0.85,900)(0.9,450)
(0.95,1300)(0.35,1300)(0.39,4000)(0.45,600)(0.52,1400)(0.58,3000)(0.65,1000)(0.73,2000)(0.82,700)(0.88,1100)
(0.33,900)(0.43,1200)(0.55,750)(0.62,2200)(0.77,1300)
(0.004,70)(0.005,110)(0.006,55)(0.007,150)(0.008,85)(0.009,65)(0.01,130)(0.011,45)(0.012,95)(0.013,200)
(0.014,60)(0.0085,120)(0.0105,80)(0.0125,150)(0.0095,42)(0.0115,100)(0.0065,90)(0.0135,75)
(0.02,40)(0.025,38)(0.03,33)(0.035,36)(0.045,40)(0.055,45)(0.065,52)(0.11,50)(0.13,65)(0.16,80)
(0.2,150)(0.25,200)(0.3,260)(0.15,110)(0.12,90)
(0.02,450)(0.025,600)(0.03,500)(0.035,700)(0.04,1100)(0.05,1600)(0.06,1400)(0.07,2500)(0.08,1800)(0.09,3000)
(0.12,4500)(0.14,3500)(0.16,5500)(0.2,4000)(0.25,6000)(0.28,3800)(0.35,8000)(0.4,5500)(0.45,7000)(0.5,4500)
(0.6,6000)(0.7,4000)(0.03,1200)(0.015,380)
(1.4,74000)(0.97,22000)(0.88,14000)(1.25,10500)(0.93,6500)(2.1,2300)(3.0,1500)(3.1,1800)
(1.9,1300)(2.1,1300)(1.7,740)(3.0,300)(6.2,1500)(9.0,1650)(11,2200)(11.6,2200)
(1.35,1500)(1.13,1500)(0.66,100)(0.26,56)(0.19,50)(0.003,69)(0.0039,66)(0.0044,83)
(0.0064,83)(0.0075,135)(0.0047,44)(0.0064,42)(0.031,32)(0.04,35)(0.091,44)(0.11,12600)
(0.13,12000)(0.21,16500)(0.25,16000)(0.34,20000)(0.36,19000)(0.32,13500)(0.2,10000)(0.17,6300)
(0.22,6300)(0.095,4200)(0.058,2100)(0.9,800)(0.85,600)(1.1,2500)
(0.0126,114)(0.0143,45)(0.0162,199)(0.0184,111)(0.0209,348)(0.0237,97)(0.0269,172)(0.0305,382)
(0.0347,76)(0.0394,336)(0.0447,210)(0.0507,931)(0.0575,164)(0.0653,579)(0.0741,288)(0.0841,508)
(0.0955,1130)(0.108,224)(0.123,788)(0.14,392)(0.158,2190)(0.18,771)(0.204,1520)(0.232,479)
(0.263,2380)(0.299,1057)(0.339,1480)(0.385,5850)(0.437,1160)(0.495,2890)
(0.0135,76)(0.0151,333)(0.017,58)(0.019,203)(0.0214,100)(0.024,175)(0.0269,385)(0.0302,75)
(0.0339,263)(0.038,130)(0.0427,717)(0.0479,250)(0.0537,490)(0.0603,152)(0.0676,751)(0.0759,330)
(0.0851,458)(0.0955,1790)(0.107,351)(0.12,867)(0.135,852)(0.151,333)(0.17,1464)(0.191,809)
(0.214,2510)(0.24,697)(0.269,1218)(0.302,2680)(0.339,525)(0.38,2307)
(0.0251,372)(0.0272,158)(0.0295,268)(0.032,105)(0.0347,371)(0.0376,190)(0.0407,245)(0.0442,722)
(0.0479,194)(0.0519,396)(0.0562,387)(0.061,181)(0.0661,585)(0.0716,360)(0.0776,884)(0.0841,314)
(0.0912,485)(0.0989,903)(0.107,243)(0.116,786)(0.126,531)(0.136,1717)(0.148,421)(0.16,1133)
(0.174,637)(0.188,986)(0.204,1834)(0.221,494)(0.24,1327)(0.26,746)
(0.0178,61)(0.0197,105)(0.0219,229)(0.0243,44)(0.0269,193)(0.0299,119)(0.0331,515)(0.0367,89)
(0.0407,308)(0.0452,150)(0.0501,260)(0.0556,567)(0.0617,110)(0.0684,380)(0.0759,185)(0.0841,1014)
(0.0933,350)(0.104,680)(0.115,209)(0.127,1021)(0.141,444)(0.157,611)(0.174,2366)(0.193,459)
(0.214,1123)(0.237,1093)(0.263,424)(0.292,1841)(0.324,1008)(0.359,3090)
(0.00794,61)(0.00912,137)(0.0105,35)(0.012,97)(0.0138,49)(0.0158,275)(0.0182,98)(0.0209,196)
(0.024,62)(0.0275,312)(0.0316,140)(0.0363,198)(0.0417,789)(0.0479,158)(0.055,397)(0.0631,398)
(0.0724,159)(0.0832,711)(0.0955,401)(0.11,1271)};
\addplot[color={rgb,255:red,223;green,83;blue,107}, line width=3pt, dash pattern=on 12pt off 9pt]
  coordinates {(0.00235,10.35)(12.4,46800)};
\end{axis}

% ---------------- (i) y(T) against T
\begin{axis}[rpanel, at={(725pt,57pt)}, width=241pt, height=201pt,
  ymode=log,
  xmin=18.5, xmax=166.2, ymin=7.08, ymax=144500,
  xtick={20,40,...,140}, xticklabels={20,,60,,100,,140},
  ytick={10,100,1000,10000,100000}, yticklabels={\tp{1},\tp{2},\tp{3},\tp{4},\tp{5}},
  x tick label style={anchor=base, yshift=-21.6pt},
  y tick label style={anchor=east, xshift=0.7pt}]
\addplot[dots] coordinates {
(24.2,90)(24.5,320)(24.8,150)(25.1,60)(25.4,520)(25.7,200)(26.0,110)(26.3,1400)(26.6,75)(26.9,260)
(27.2,420)(27.5,130)(27.8,55)(28.1,800)(28.4,180)(28.7,95)(29.0,340)(29.3,2200)(29.6,140)(29.9,65)
(30.2,480)(30.5,230)(30.8,120)(31.1,700)(31.4,85)(31.7,300)(32.0,160)(32.3,1000)(32.6,50)(32.9,210)
(33.2,380)(33.5,105)(33.8,600)(34.1,175)(34.4,70)(34.7,280)(35.0,1800)(35.3,135)(35.6,440)(35.9,90)
(36.2,250)(36.5,650)(36.8,115)(37.1,320)(37.4,58)(37.7,190)(38.0,900)(38.3,150)(38.6,400)(38.9,80)
(39.2,270)(39.5,125)(39.8,550)
(24.3,180)(24.9,700)(25.5,100)(26.1,350)(26.7,160)(27.3,3500)(27.9,240)(28.5,50)(29.1,130)(29.7,560)
(30.3,88)(30.9,1500)(31.5,200)(32.1,420)(32.7,110)(33.3,250)(33.9,68)(34.5,460)(35.1,220)(35.7,125)
(36.3,1100)(36.9,70)(37.5,380)(38.1,200)(38.7,48)(39.3,650)(24.6,45)(25.8,260)(27.0,95)(28.2,150)
(29.4,300)(30.6,44)(31.8,2500)(33.0,145)(34.2,330)(35.4,50)(36.6,210)(37.8,110)
(40.3,130)(40.7,450)(41.1,90)(41.5,230)(41.9,1200)(42.3,160)(42.7,70)(43.1,600)(43.5,280)(43.9,110)
(44.3,3000)(44.7,190)(45.1,400)(45.5,55)(45.9,240)(46.3,850)(46.7,140)(47.1,320)(47.5,80)(47.9,1800)
(48.3,210)(48.7,500)(49.1,120)(49.5,270)(49.9,60)(50.3,700)(50.7,180)(51.1,360)(51.5,100)(51.9,2400)
(52.3,230)(52.7,150)(53.1,450)(53.5,75)(53.9,1000)(54.3,300)(54.7,130)(55.1,5500)(55.5,200)(55.9,520)
(56.3,95)(56.7,350)(57.1,160)(57.5,1400)(57.9,250)(58.3,70)(58.7,620)(59.1,180)(59.5,3000)(59.9,110)
(41.3,700)(43.3,48)(45.3,160)(47.3,560)(49.3,2000)(51.3,85)(53.3,230)(55.3,380)(57.3,60)(59.3,800)
(60.5,200)(61.2,600)(61.9,110)(62.6,1400)(63.3,300)(64.0,70)(64.7,450)(65.4,3500)(66.1,160)(66.8,250)
(67.5,90)(68.2,750)(68.9,180)(69.6,60)(70.3,400)(71.0,1100)(71.7,140)(72.4,300)(73.1,4500)(73.8,100)
(74.5,520)(75.2,200)(75.9,1600)(76.6,85)(77.3,350)(78.0,150)(78.7,900)(79.4,240)(80.1,2800)(80.8,75)
(81.5,430)(82.2,180)(82.9,1200)(83.6,110)(84.3,320)(85.0,650)(85.7,95)(86.4,2000)(87.1,260)(87.8,140)
(88.5,500)(89.2,80)(89.9,900)(90.6,190)(91.3,2700)(92.0,350)(92.7,120)(93.4,700)(94.1,240)(94.8,60)
(95.5,1300)(96.2,160)(96.9,450)(97.6,90)(98.3,600)(99.0,210)(99.7,1500)(70,55)(80,50)(90,65)
(100.5,150)(101.5,600)(102.5,280)(103.5,90)(104.5,1200)(105.5,200)(106.5,70)(107.5,450)(108.5,140)(109.5,800)
(110.5,250)(111.5,65)(112.5,1800)(113.5,180)(114.5,350)(115.5,110)(116.5,600)(117.5,200)(118.5,75)(119.5,900)
(120.5,250)(121.5,120)(122.5,1600)(123.5,300)(124.5,90)(125.5,550)(126.5,180)(127.5,2800)(128.5,130)(129.5,400)
(103,2500)(108,3800)(113,220)(118,1400)(123,60)(106,330)(116,130)(121,450)(111,2200)(101,95)
(102.2,81000)(102.2,23000)(25.1,20000)(57.6,17000)(61.3,17000)(66.8,14000)(84.8,17700)(90.5,13000)
(96,11000)(97.1,8700)(101.2,12700)(113,10700)(107.3,7000)(110.4,6800)(105.3,4500)(37.8,12600)
(48.4,11000)(33.7,9100)(25.9,7700)(131.9,3700)(160.5,1660)(151.3,800)(152.3,500)(154.4,290)
(154.8,260)(160.5,95)(160.5,35)(153.3,79)(148.6,42)(148.6,45)(144.5,129)(138,85)
(140,550)(137,410)(139.6,270)(129.8,690)(130.8,410)(134.9,290)(136,79)(129.8,86)
(113.5,31)(123.7,48)(121.6,41)(59.3,35)(49,42)(74.2,42)(81.8,42)(145,60)
(24.1,95)(24.65,320)(25.2,58)(25.75,180)(26.3,640)(26.85,120)(27.4,45)(27.95,260)(28.5,85)(29.05,450)
(29.6,150)(30.15,1100)(30.7,70)(31.25,230)(31.8,380)(32.35,52)(32.9,140)(33.45,780)(34.0,105)(34.55,290)
(35.1,65)(35.65,200)(36.2,520)(36.75,88)(37.3,160)(37.85,1500)(38.4,62)(38.95,240)(39.5,125)(40.05,360)
(24.4,253)(24.95,418)(25.5,57)(26.05,154)(26.6,858)(27.15,116)(27.7,319)(28.25,72)(28.8,220)(29.35,572)
(29.9,97)(30.45,176)(31.0,1650)(31.55,68)(32.1,264)(32.65,138)(33.2,396)(33.75,105)(34.3,352)(34.85,64)
(35.4,198)(35.95,704)(36.5,132)(37.05,50)(37.6,286)(38.15,94)(38.7,495)(39.25,165)(39.8,1210)(40.35,77)
(24.8,442)(25.3,75)(25.8,136)(26.3,1275)(26.8,53)(27.3,204)(27.8,106)(28.3,306)(28.8,81)(29.3,272)
(29.8,49)(30.3,153)(30.8,544)(31.3,102)(31.8,40)(32.3,221)(32.8,72)(33.3,383)(33.8,128)(34.3,935)
(34.8,60)(35.3,196)(35.8,323)(36.3,44)(36.8,119)(37.3,663)(37.8,89)(38.3,247)(38.8,55)(39.3,170)
(40.0,52)(40.7,300)(41.4,98)(42.1,518)(42.8,173)(43.5,1265)(44.2,81)(44.9,265)(45.6,437)(46.3,60)
(47.0,161)(47.7,897)(48.4,121)(49.1,334)(49.8,75)(50.5,230)(51.2,598)(51.9,101)(52.6,184)(53.3,1725)
(54.0,71)(54.7,276)(55.4,144)(56.1,414)(56.8,109)(57.5,368)(58.2,67)(58.9,207)(59.6,736)(60.3,138)
(60.0,105)(61.3,290)(62.6,65)(63.9,200)(65.2,520)(66.5,88)(67.8,160)(69.1,1500)(70.4,62)(71.7,240)
(73.0,125)(74.3,360)(75.6,95)(76.9,320)(78.2,58)(79.5,180)(80.8,640)(82.1,120)(83.4,50)(84.7,260)
(86.0,85)(87.3,450)(88.6,150)(89.9,1100)(91.2,70)(92.5,230)(93.8,380)(95.1,52)(96.4,140)(97.7,780)};
\end{axis}

% ---------------- panel letters, axis titles, page number
\node at (83.3pt,884.3pt) {\panel{a}};
\node at (415pt,864.3pt) {\panel{b}};
\node at (805pt,884.3pt) {\panel{c}};
\node at (83.3pt,559.3pt) {\panel{d}};
\node at (415pt,561pt) {\panel{e}};
\node at (745pt,559.3pt) {\panel{f}};
\node at (83.3pt,236pt) {\panel{g}};
\node at (415pt,234.3pt) {\panel{h}};
\node at (743.3pt,236pt) {\panel{i}};

\node[font=\lab] at (182.5pt,661pt) {α};
\node[font=\lab, rotate=90] at (14pt,807pt) {Probability Density};
\node[font=\lab] at (513pt,661pt) {R};
\node[font=\lab, rotate=90] at (345pt,807pt) {Cumulative Distribution};
\node[font=\lab] at (845.5pt,662pt) {T};
\node[font=\lab, rotate=90] at (677pt,807pt) {Cumulative Distribution};

\node[font=\lab] at (182pt,338pt) {α};
\node[font=\lab, rotate=90] at (12pt,482pt) {R};
\node[font=\biglab] at (514pt,346pt) {T};
\node[font=\biglab, rotate=90] at (355pt,482pt) {α};
\node[font=\lab] at (845pt,336pt) {T};
\node[font=\lab, rotate=90] at (673pt,482pt) {R};

\node[font=\lab] at (182pt,13pt) {α};
\node[font=\lab, rotate=90] at (15pt,157pt) {y(T)};
\node[font=\lab] at (513.5pt,28pt) {R};
\node[font=\lab, rotate=90] at (345pt,157pt) {y(T)};
\node[font=\lab] at (845.5pt,12pt) {T};
\node[font=\lab, rotate=90] at (675pt,157pt) {y(T)};

\node[font=\serifface\fontsize{14}{15}\selectfont] at (1002pt,1039pt) {6};
\end{tikzpicture}
\end{document}
